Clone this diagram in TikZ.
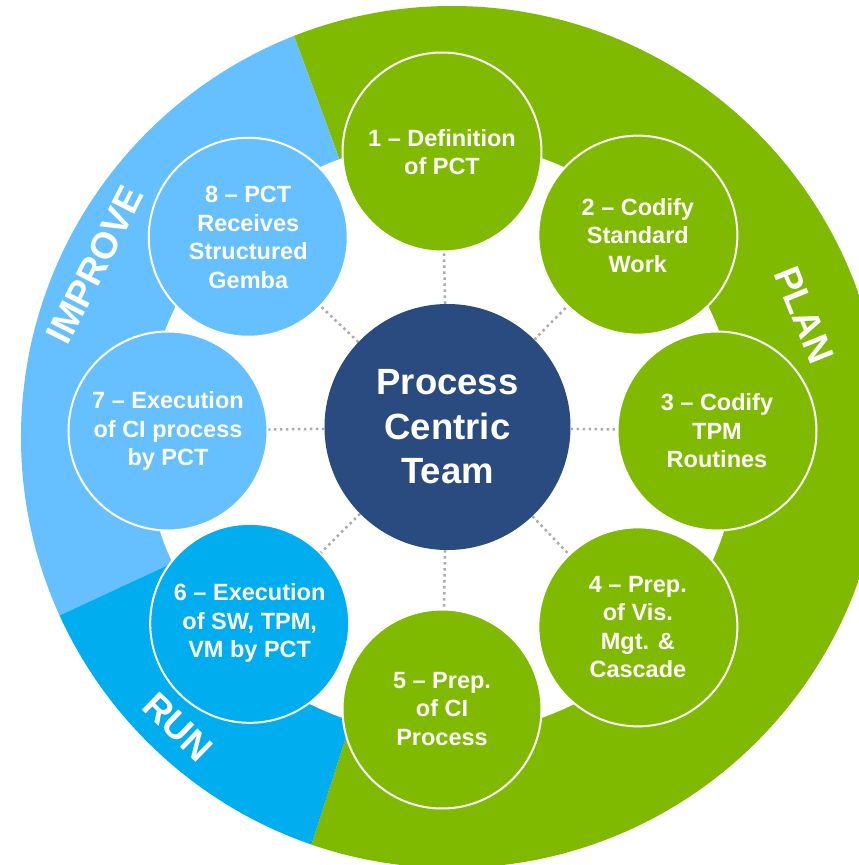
\documentclass[tikz,border=0pt]{standalone}
\usepackage{fontspec}
\setmainfont{Liberation Sans}
\usetikzlibrary{calc}
\definecolor{plangreen}{RGB}{127,186,0}
\definecolor{improveblue}{RGB}{102,191,255}
\definecolor{runblue}{RGB}{0,174,239}
\definecolor{teamnavy}{RGB}{41,75,128}
\tikzstyle{stage} = [draw=white, circle, line width=2pt, minimum size=199pt, inner sep=0pt, text=white, align=center, font=\fontsize{23.5}{28.5}\selectfont\bfseries]
\tikzstyle{hub} = [circle, fill=teamnavy, minimum size=246pt, inner sep=0pt, text=white, align=center, font=\fontsize{36.5}{44.5}\selectfont\bfseries]
\tikzstyle{link} = [draw=black!33, line width=2.5pt, dash pattern=on 2.5pt off 3.5pt]
\tikzstyle{phase} = [text=white, inner sep=0pt, font=\fontsize{37}{37}\selectfont\bfseries]

\begin{document}
\begin{tikzpicture}[x=1pt, y=1pt]
	\useasboundingbox (-442,-434) rectangle (417,431);
	\clip (-442,-434) rectangle (417,431);

	\coordinate (mid) at (0,-7);
	\begin{scope}
		\clip (10,-6) circle (431);
		\fill[plangreen] (mid) -- ++(-107.8:600) arc[start angle=-107.8, end angle=110.2, radius=600] -- cycle;
		\fill[improveblue] (mid) -- ++(110.2:600) arc[start angle=110.2, end angle=204.9, radius=600] -- cycle;
		\fill[runblue] (mid) -- ++(204.9:600) arc[start angle=204.9, end angle=252.2, radius=600] -- cycle;
	\end{scope}
	\fill[white] (mid) circle (297);

	\node [hub] (pct) at (5.5,4) {Process\\Centric\\Team};

	\node [stage, fill=plangreen] (s1) at (90:279) {1 – Definition\\of PCT};
	\node [stage, fill=plangreen] (s2) at (45:277) {2 – Codify\\Standard\\Work};
	\node [stage, fill=plangreen] (s3) at (0:275) {3 – Codify\\TPM\\Routines};
	\node [stage, fill=plangreen] (s4) at (-45:277) {4 – Prep.\\of Vis.\\Mgt. \&\\Cascade};
	\node [stage, fill=plangreen] (s5) at (-90:278) {5 – Prep.\\of CI\\Process};
	\node [stage, fill=runblue] (s6) at (-135:272) {6 – Execution\\of SW, TPM,\\VM by PCT};
	\node [stage, fill=improveblue] (s7) at (180:274) {7 – Execution\\of CI process\\by PCT};
	\node [stage, fill=improveblue] (s8) at (135:274) {8 – PCT\\Receives\\Structured\\Gemba};

	\path [link] (pct) -- (s1);
	\path [link] (pct) -- (s2);
	\path [link] (pct) -- (s3);
	\path [link] (pct) -- (s4);
	\path [link] (pct) -- (s5);
	\path [link] (pct) -- (s6);
	\path [link] (pct) -- (s7);
	\path [link] (pct) -- (s8);

	\node [phase, rotate=-68] (plan) at (362,116) {PLAN};
	\node [phase, rotate=63] (improve) at (-347,166) {IMPROVE};
	\node [phase, rotate=-44] (run) at (-264,-296) {RUN};
\end{tikzpicture}
\end{document}
